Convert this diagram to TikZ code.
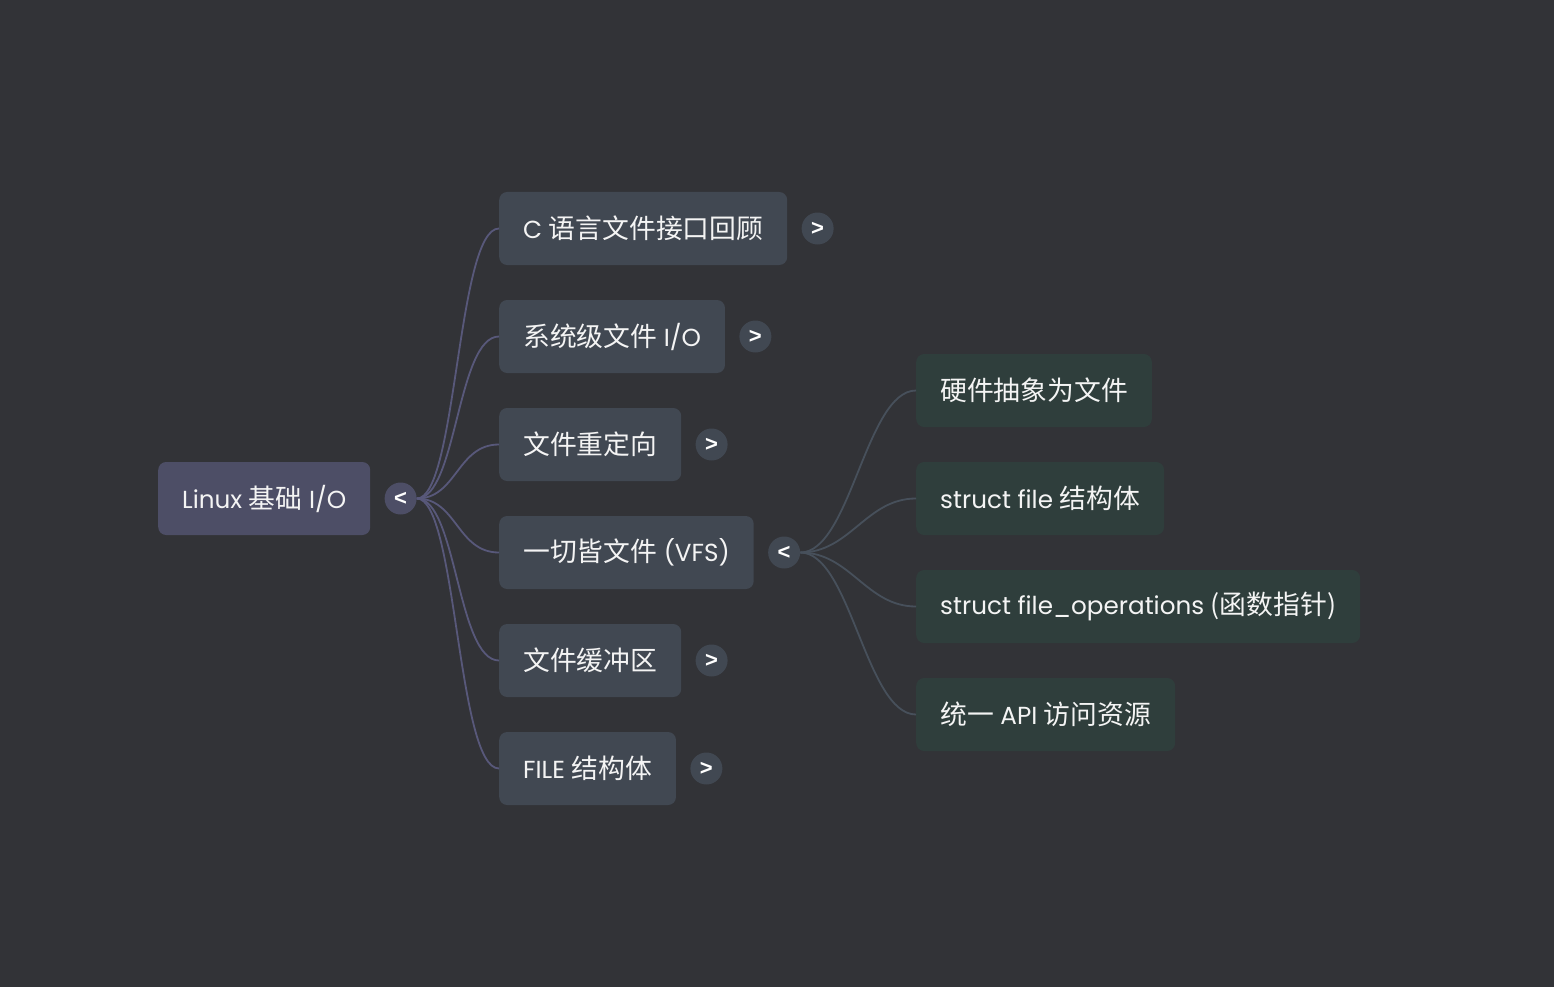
\documentclass[tikz,border=0pt]{standalone}
\usepackage{fontspec}
\setmainfont[Scale=0.92]{Poppins}
\newfontfamily\cjk{Noto Sans CJK SC}
\newfontfamily\tog{Liberation Sans}
\usepackage{xcolor}
\usetikzlibrary{positioning}
\definecolor{canvas}{HTML}{323337}
\definecolor{rootfill}{HTML}{4D4E66}
\definecolor{topicfill}{HTML}{414852}
\definecolor{leaffill}{HTML}{2F3E3C}
\definecolor{rootline}{HTML}{58587A}
\definecolor{vfsline}{HTML}{47505B}
\definecolor{ink}{HTML}{F4F4F4}
\tikzset{
  box/.style={rounded corners=8pt, minimum height=73pt, inner xsep=24pt,
    inner ysep=0pt, text=ink, anchor=west, font=\fontsize{26.8}{30}\selectfont},
  rootbox/.style={box, fill=rootfill},
  topic/.style={box, fill=topicfill},
  leaf/.style={box, fill=leaffill},
  toggle/.style={circle, minimum size=32pt, inner sep=0pt, text=white,
    font=\tog\fontsize{22}{22}\selectfont\bfseries},
  link/.style={line width=1.8pt},
}

\begin{document}
\begin{tikzpicture}[x=1pt, y=-1pt]
\useasboundingbox[fill=canvas] (0,0) rectangle (1554,987);
% Root
\node[rootbox] (root) at (158,498.5) {Linux {\cjk 基础} I/O};
\node[toggle, fill=rootfill, right=14pt of root] (rtog) {<};
% First level
\node[topic] (crev) at (499,228.5) {C {\cjk 语言文件接口回顾}};
\node[topic] (sysio) at (499,336.5) {{\cjk 系统级文件} I/O};
\node[topic] (redir) at (499,444.5) {\cjk 文件重定向};
\node[topic] (vfs) at (499,552.5) {{\cjk 一切皆文件} (VFS)};
\node[topic] (buf) at (499,660.5) {\cjk 文件缓冲区};
\node[topic] (fstruct) at (499,768.5) {FILE {\cjk 结构体}};
% Toggles
\foreach \n in {crev, sysio, redir, buf, fstruct}{
  \node[toggle, fill=topicfill, right=14pt of \n] (\n-tog) {>};
}
\node[toggle, fill=topicfill, right=14pt of vfs] (vfs-tog) {<};
% Second level (VFS)
\node[leaf] (hw) at (916,390.5) {\cjk 硬件抽象为文件};
\node[leaf] (sfile) at (916,498.5) {struct file {\cjk 结构体}};
\node[leaf] (sfops) at (916,606.5) {struct file\_operations {\cjk (函数指针)}};
\node[leaf] (api) at (916,714.5) {{\cjk 统一} API {\cjk 访问资源}};
% Connectors
\foreach \n in {crev, sysio, redir, vfs, buf, fstruct}{
  \draw[link, rootline] (rtog.east) .. controls +(40,0) and +(-42,0) .. (\n.west);
}
\foreach \n in {hw, sfile, sfops, api}{
  \draw[link, vfsline] (vfs-tog.east) .. controls +(50,0) and +(-50,0) .. (\n.west);
}
\end{tikzpicture}
\end{document}
